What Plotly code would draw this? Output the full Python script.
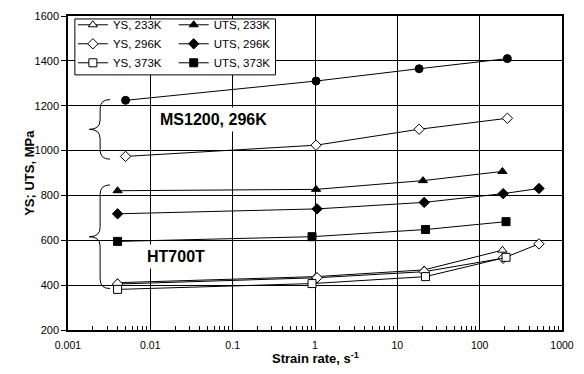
import plotly.graph_objects as go

# ---------------- data ----------------
ms_x = [0.005, 1.03, 18.4, 217]
ms_uts = [1224, 1310, 1365, 1410]
ms_ys = [974, 1024, 1095, 1144]

uts233_x = [0.004, 1.03, 20.5, 189]
uts233_y = [821, 827, 866, 907]
uts296_x = [0.004, 1.06, 21.2, 193, 525]
uts296_y = [718, 740, 769, 808, 831]
uts373_x = [0.004, 0.92, 22.0, 209]
uts373_y = [595, 616, 648, 683]

ys233_x = [0.004, 1.03, 21.2, 189]
ys233_y = [411, 438, 468, 556]
ys296_x = [0.004, 1.06, 21.2, 193, 525]
ys296_y = [405, 433, 460, 520, 584]
ys373_x = [0.004, 0.92, 22.0, 209]
ys373_y = [381, 407, 438, 524]

x_ticks = [0.001, 0.01, 0.1, 1, 10, 100, 1000]
x_ticklabels = ["0.001", "0.01", "0.1", "1", "10", "100", "1000"]
y_ticks = [200, 400, 600, 800, 1000, 1200, 1400, 1600]

FONT = "Liberation Sans, Arial, sans-serif"

fig = go.Figure()


def add(x, y, name, symbol, filled, size, legend="legend", show=True):
    fig.add_trace(go.Scatter(
        x=x, y=y, name=name, mode="lines+markers", showlegend=show,
        legend=legend,
        line=dict(color="black", width=1),
        marker=dict(symbol=symbol, size=size,
                    color="black" if filled else "white",
                    line=dict(color="black", width=1)),
    ))


add(ys233_x, ys233_y, "YS, 233K", "triangle-up", False, 8, "legend")
add(ys296_x, ys296_y, "YS, 296K", "diamond", False, 8, "legend")
add(ys373_x, ys373_y, "YS, 373K", "square", False, 8, "legend")
add(uts233_x, uts233_y, "UTS, 233K", "triangle-up", True, 8, "legend2")
add(uts296_x, uts296_y, "UTS, 296K", "diamond", True, 8, "legend2")
add(uts373_x, uts373_y, "UTS, 373K", "square", True, 8, "legend2")
add(ms_x, ms_uts, "MS1200 UTS", "circle", True, 8, show=False)
add(ms_x, ms_ys, "MS1200 YS", "diamond", False, 8, show=False)

# minor ticks on an overlaid axis
minor_vals = [m * 10 ** e for e in range(-3, 3) for m in range(2, 10)]
fig.add_trace(go.Scatter(x=[0.001, 1000], y=[None, None], xaxis="x2",
                         showlegend=False, hoverinfo="skip"))


def brace(x_tip, x_line, x_end, y_top, y_bot, r):
    y_mid = (y_top + y_bot) / 2
    return (f"M{x_end},{y_top} Q{x_line},{y_top} {x_line},{y_top - r} "
            f"L{x_line},{y_mid + r} Q{x_line},{y_mid} {x_tip},{y_mid} "
            f"Q{x_line},{y_mid} {x_line},{y_mid - r} "
            f"L{x_line},{y_bot + r} Q{x_line},{y_bot} {x_end},{y_bot}")


for yt, yb in [(0.734, 0.544), (0.462, 0.132)]:
    fig.add_shape(type="path", xref="paper", yref="paper",
                  path=brace(0.043, 0.065, 0.085, yt, yb, 0.03),
                  line=dict(color="black", width=1))

# legend frame (two legend columns drawn on top of it)
fig.add_shape(type="rect", xref="paper", yref="paper",
              x0=0.0139, x1=0.420, y0=0.8125, y1=0.9906,
              fillcolor="white", line=dict(color="black", width=1),
              layer="above")

fig.add_annotation(x=0.295, y=0.67, xref="paper", yref="paper",
                   xanchor="center", yanchor="middle",
                   text="<b>MS1200, 296K</b>", showarrow=False,
                   font=dict(family=FONT, size=16, color="black"),
                   bgcolor="white", borderpad=3)
fig.add_annotation(x=0.218, y=0.234, xref="paper", yref="paper",
                   xanchor="center", yanchor="middle",
                   text="<b>HT700T</b>", showarrow=False,
                   font=dict(family=FONT, size=16, color="black"),
                   bgcolor="white", borderpad=3)
fig.add_annotation(x=-0.0793, y=0.5, xref="paper", yref="paper",
                   xanchor="center", yanchor="middle", textangle=-90,
                   text="<b>YS; UTS, MPa</b>", showarrow=False,
                   font=dict(family=FONT, size=13, color="black"))
fig.add_annotation(x=0.5, y=-0.089, xref="paper", yref="paper",
                   xanchor="center", yanchor="middle",
                   text="<b>Strain rate, s<sup>-1</sup></b>", showarrow=False,
                   font=dict(family=FONT, size=13, color="black"))

leg_common = dict(orientation="v", yanchor="middle", y=0.9115,
                  xanchor="left", bgcolor="rgba(0,0,0,0)", borderwidth=0,
                  font=dict(family=FONT, size=11.5, color="black"),
                  tracegroupgap=0)

fig.update_layout(
    width=584, height=374,
    margin=dict(l=68, r=12, t=10, b=44),
    paper_bgcolor="white", plot_bgcolor="white",
    font=dict(family=FONT, color="black"),
    xaxis=dict(type="log", range=[-3, 3],
               tickvals=x_ticks, ticktext=x_ticklabels,
               tickfont=dict(size=10.5), ticks="", ticklabelstandoff=5,
               showgrid=True, gridcolor="black", gridwidth=1,
               showline=True, linecolor="black", linewidth=1.5, mirror=True,
               zeroline=False),
    xaxis2=dict(type="log", range=[-3, 3], overlaying="x",
                tickvals=minor_vals, ticks="inside", ticklen=4,
                tickcolor="black", showticklabels=False, showgrid=False,
                showline=False, zeroline=False, side="bottom"),
    yaxis=dict(range=[200, 1600], tickvals=y_ticks,
               tickfont=dict(size=11), ticks="outside", ticklen=5,
               tickcolor="black",
               showgrid=True, gridcolor="black", gridwidth=1,
               showline=True, linecolor="black", linewidth=1.5, mirror=True,
               zeroline=False),
    legend=dict(x=0.0099, **leg_common),
    legend2=dict(x=0.214, **leg_common),
    showlegend=True,
)

fig.write_html("out.html")
